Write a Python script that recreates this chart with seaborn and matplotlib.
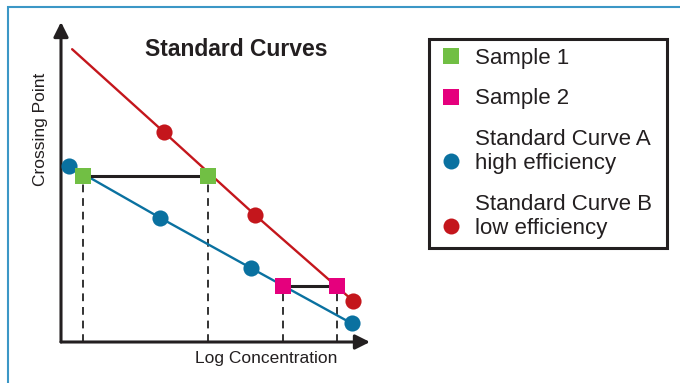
import numpy as np
import pandas as pd
import matplotlib
matplotlib.use("Agg")
import matplotlib.pyplot as plt
from matplotlib.lines import Line2D
from matplotlib.patches import Rectangle
import seaborn as sns

sns.set_theme(style="white")
plt.rcParams['font.family'] = ['Liberation Sans', 'DejaVu Sans']

# standard curve A (high efficiency): log concentration vs crossing point
curve_a_x = [0.27, 3.21, 6.15, 9.41]
curve_a_y = [5.50, 3.88, 2.31, 0.58]
# standard curve B (low efficiency), first value is only where the line starts
curve_b_x = [0.36, 3.32, 6.28, 9.46]
curve_b_y = [9.15, 6.57, 3.97, 1.28]
# samples, same crossing point read on both curves
sample1_x = [0.71, 4.76]
sample1_y = [5.20, 5.20]
sample2_x = [7.18, 8.93]
sample2_y = [1.75, 1.75]

labels = ["Sample 1", "Sample 2",
          "Standard Curve A\nhigh efficiency",
          "Standard Curve B\nlow efficiency"]

green = "#71BF44"
magenta = "#E5007D"
blue = "#0A71A0"
red = "#C4161C"
ink = "#231F20"
narrow = ['Liberation Sans Narrow', 'Liberation Sans', 'DejaVu Sans']

fig = plt.figure(figsize=(6.8, 3.83), dpi=100)
fig.patch.set_facecolor("white")
fig.add_artist(Rectangle((8 / 680, -0.2), 1.2, 1.2 - 7 / 383, fill=False,
                         edgecolor="#3B97C6", lw=1.5, transform=fig.transFigure))

ax = fig.add_axes([61 / 680, 41 / 383, 309 / 680, 320 / 383])
ax.set_xlim(0, 10)
ax.set_ylim(0, 10)
ax.set_facecolor("none")
for s in ax.spines.values():
    s.set_visible(False)
ax.set_xticks([])
ax.set_yticks([])

# axis arrows
for tip in [(1, 0), (0, 1)]:
    ax.annotate("", xy=tip, xytext=(0, 0), xycoords="axes fraction",
                arrowprops=dict(arrowstyle="-|>", color=ink, lw=2.2,
                                mutation_scale=22, shrinkA=0, shrinkB=0))

# standard curves
sns.lineplot(x=curve_a_x, y=curve_a_y, color=blue, lw=1.7, sort=False,
             estimator=None, ax=ax, zorder=2)
sns.lineplot(x=curve_b_x, y=curve_b_y, color=red, lw=1.7, sort=False,
             estimator=None, ax=ax, zorder=2)
sns.scatterplot(x=curve_a_x, y=curve_a_y, color=blue, s=135, linewidth=0,
                ax=ax, zorder=4)
sns.scatterplot(x=curve_b_x[1:], y=curve_b_y[1:], color=red, s=135,
                linewidth=0, ax=ax, zorder=4)

# samples
for sx, sy, col in [(sample1_x, sample1_y, green), (sample2_x, sample2_y, magenta)]:
    ax.vlines(sx, 0, sy, colors="#333333", lw=1.4, linestyles=(0, (4, 3)), zorder=1)
    ax.plot(sx, sy, color=ink, lw=2.2, zorder=3)
    sns.scatterplot(x=sx, y=sy, marker="s", color=col, s=135, linewidth=0,
                    ax=ax, zorder=5)

# axis titles and chart title
fig.text(266 / 680, 1 - 358 / 383, "Log Concentration", ha="center", va="center",
         fontsize=12.5, color=ink, family=narrow)
fig.text(40 / 680, 1 - 129 / 383, "Crossing Point", ha="center", va="center",
         rotation=90, fontsize=12.5, color=ink, family=narrow)
fig.text(236 / 680, 1 - 50 / 383, "Standard Curves", ha="center", va="center",
         fontsize=16.5, fontweight="bold", color=ink, family=narrow)

handles = [
    Line2D([], [], marker="s", ls="none", color=green, markersize=11.5, markeredgewidth=0),
    Line2D([], [], marker="s", ls="none", color=magenta, markersize=11.5, markeredgewidth=0),
    Line2D([], [], marker="o", ls="none", color=blue, markersize=11.5, markeredgewidth=0),
    Line2D([], [], marker="o", ls="none", color=red, markersize=11.5, markeredgewidth=0),
]
leg = ax.legend(handles, labels, loc="upper left",
                bbox_to_anchor=(429 / 680, 1 - 39 / 383, (667 - 429) / 680, 0),
                bbox_transform=fig.transFigure, mode="expand", borderaxespad=0,
                frameon=True, fancybox=False, edgecolor=ink, framealpha=1,
                fontsize=16, labelspacing=0.88, handlelength=1.2,
                handletextpad=0.45, borderpad=0.4, labelcolor=ink)
leg.get_frame().set_linewidth(2.2)
# put the marker of two-line entries next to the second line
for row in leg._legend_handle_box.get_children()[0].get_children():
    row.get_children()[1].set_multilinebaseline(False)
for t in leg.get_texts():
    t.set_linespacing(1.2)

fig.savefig("out.png", dpi=100)
